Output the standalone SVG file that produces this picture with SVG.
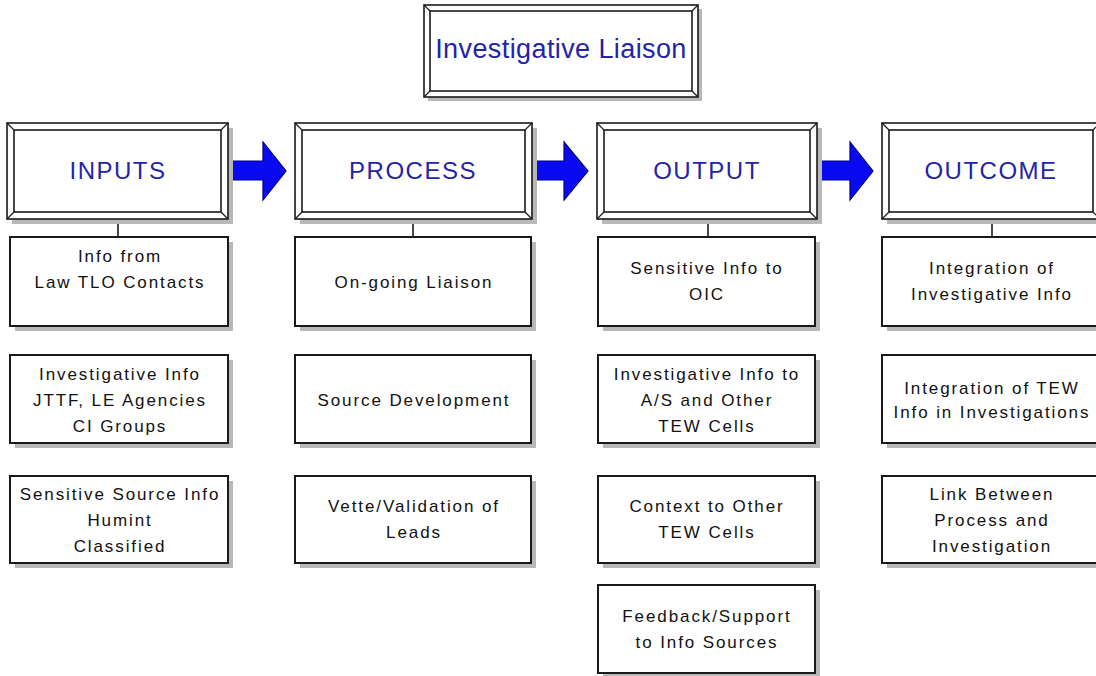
<svg xmlns="http://www.w3.org/2000/svg" width="1096" height="676" viewBox="0 0 1096 676">
  <style>
    .shadow { fill: #b8b8b8; stroke: none; }
    .frame { fill: #ffffff; stroke: #1a1a1a; stroke-width: 1.6; }
    .bevel { stroke: #1a1a1a; stroke-width: 1.2; fill: none; }
    .box { fill: #ffffff; stroke: #1a1a1a; stroke-width: 2; }
    .head { font-family: "Liberation Sans", Arial, sans-serif; font-size: 24px; letter-spacing: 1.5px; fill: #2424a8; text-anchor: middle; }
    .title { font-family: "Liberation Sans", Arial, sans-serif; font-size: 27px; letter-spacing: 0.4px; fill: #2424a8; text-anchor: middle; }
    .lbl { font-family: "Liberation Sans", Arial, sans-serif; font-size: 17px; letter-spacing: 1.9px; fill: #111111; text-anchor: middle; }
    .link { stroke: #1a1a1a; stroke-width: 1.6; fill: none; }
    .flow { fill: #0a0af0; stroke: #00008a; stroke-width: 1.2; stroke-linejoin: miter; }
  </style>

  <rect width="1096" height="676" fill="#ffffff"/>

  <!-- Title -->
  <g id="title">
    <rect class="shadow" x="428" y="9" width="274" height="92"/>
    <rect class="frame" x="424" y="5" width="274" height="92"/>
    <rect class="frame" x="430" y="11" width="262" height="80"/>
    <path class="bevel" d="M424 5 L430 11 M698 5 L692 11 M424 97 L430 91 M698 97 L692 91"/>
    <text class="title" x="561" y="58">Investigative Liaison</text>
  </g>

  <!-- Connectors: header-to-header flow arrows and header-to-list ticks -->
  <g id="connectors">
    <polygon class="flow" points="228,161 263,161 263,142 286,171 263,200 263,180 228,180"/>
    <polygon class="flow" points="532,161 564,161 564,142 588,171 564,200 564,180 532,180"/>
    <polygon class="flow" points="817,161 850,161 850,142 873,171 850,200 850,180 817,180"/>
    <line class="link" x1="118" y1="219" x2="118" y2="237"/>
    <line class="link" x1="413" y1="219" x2="413" y2="237"/>
    <line class="link" x1="708" y1="219" x2="708" y2="237"/>
    <line class="link" x1="992" y1="219" x2="992" y2="237"/>
  </g>

  <!-- Column headers -->
  <g id="inputs">
    <rect class="shadow" x="12" y="128" width="221" height="96"/>
    <rect class="frame" x="7" y="123" width="221" height="96"/>
    <rect class="frame" x="14" y="130" width="207" height="82"/>
    <path class="bevel" d="M7 123 L14 130 M228 123 L221 130 M7 219 L14 212 M228 219 L221 212"/>
    <text class="head" x="118" y="179">INPUTS</text>
  </g>
  <g id="process">
    <rect class="shadow" x="300" y="128" width="237" height="96"/>
    <rect class="frame" x="295" y="123" width="237" height="96"/>
    <rect class="frame" x="302" y="130" width="223" height="82"/>
    <path class="bevel" d="M295 123 L302 130 M532 123 L525 130 M295 219 L302 212 M532 219 L525 212"/>
    <text class="head" x="413" y="179">PROCESS</text>
  </g>
  <g id="output">
    <rect class="shadow" x="602" y="128" width="220" height="96"/>
    <rect class="frame" x="597" y="123" width="220" height="96"/>
    <rect class="frame" x="604" y="130" width="206" height="82"/>
    <path class="bevel" d="M597 123 L604 130 M817 123 L810 130 M597 219 L604 212 M817 219 L810 212"/>
    <text class="head" x="707" y="179">OUTPUT</text>
  </g>
  <g id="outcome">
    <rect class="shadow" x="887" y="128" width="218" height="96"/>
    <rect class="frame" x="882" y="123" width="218" height="96"/>
    <rect class="frame" x="889" y="130" width="204" height="82"/>
    <path class="bevel" d="M882 123 L889 130 M1100 123 L1093 130 M882 219 L889 212 M1100 219 L1093 212"/>
    <text class="head" x="991" y="179">OUTCOME</text>
  </g>

  <!-- INPUTS items -->
  <g id="in-1">
    <rect class="shadow" x="15" y="242" width="218" height="89"/>
    <rect class="box" x="10" y="237" width="218" height="89"/>
    <text class="lbl" x="120" y="262">Info from</text>
    <text class="lbl" x="120" y="288">Law TLO Contacts</text>
  </g>
  <g id="in-2">
    <rect class="shadow" x="15" y="360" width="218" height="88"/>
    <rect class="box" x="10" y="355" width="218" height="88"/>
    <text class="lbl" x="120" y="380">Investigative Info</text>
    <text class="lbl" x="120" y="406">JTTF, LE Agencies</text>
    <text class="lbl" x="120" y="432">CI Groups</text>
  </g>
  <g id="in-3">
    <rect class="shadow" x="15" y="481" width="218" height="87"/>
    <rect class="box" x="10" y="476" width="218" height="87"/>
    <text class="lbl" x="120" y="500">Sensitive Source Info</text>
    <text class="lbl" x="120" y="526">Humint</text>
    <text class="lbl" x="120" y="552">Classified</text>
  </g>

  <!-- PROCESS items -->
  <g id="proc-1">
    <rect class="shadow" x="300" y="242" width="236" height="89"/>
    <rect class="box" x="295" y="237" width="236" height="89"/>
    <text class="lbl" x="414" y="288">On-going Liaison</text>
  </g>
  <g id="proc-2">
    <rect class="shadow" x="300" y="360" width="236" height="88"/>
    <rect class="box" x="295" y="355" width="236" height="88"/>
    <text class="lbl" x="414" y="406">Source Development</text>
  </g>
  <g id="proc-3">
    <rect class="shadow" x="300" y="481" width="236" height="87"/>
    <rect class="box" x="295" y="476" width="236" height="87"/>
    <text class="lbl" x="414" y="512">Vette/Validation of</text>
    <text class="lbl" x="414" y="538">Leads</text>
  </g>

  <!-- OUTPUT items -->
  <g id="out-1">
    <rect class="shadow" x="603" y="242" width="217" height="89"/>
    <rect class="box" x="598" y="237" width="217" height="89"/>
    <text class="lbl" x="707" y="274">Sensitive Info to</text>
    <text class="lbl" x="707" y="300">OIC</text>
  </g>
  <g id="out-2">
    <rect class="shadow" x="603" y="360" width="217" height="88"/>
    <rect class="box" x="598" y="355" width="217" height="88"/>
    <text class="lbl" x="707" y="380">Investigative Info to</text>
    <text class="lbl" x="707" y="406">A/S and Other</text>
    <text class="lbl" x="707" y="432">TEW Cells</text>
  </g>
  <g id="out-3">
    <rect class="shadow" x="603" y="481" width="217" height="87"/>
    <rect class="box" x="598" y="476" width="217" height="87"/>
    <text class="lbl" x="707" y="512">Context to Other</text>
    <text class="lbl" x="707" y="538">TEW Cells</text>
  </g>
  <g id="out-4">
    <rect class="shadow" x="603" y="590" width="217" height="88"/>
    <rect class="box" x="598" y="585" width="217" height="88"/>
    <text class="lbl" x="707" y="622">Feedback/Support</text>
    <text class="lbl" x="707" y="648">to Info Sources</text>
  </g>

  <!-- OUTCOME items -->
  <g id="oc-1">
    <rect class="shadow" x="887" y="242" width="218" height="89"/>
    <rect class="box" x="882" y="237" width="218" height="89"/>
    <text class="lbl" x="992" y="274">Integration of</text>
    <text class="lbl" x="992" y="300">Investigative Info</text>
  </g>
  <g id="oc-2">
    <rect class="shadow" x="887" y="360" width="218" height="88"/>
    <rect class="box" x="882" y="355" width="218" height="88"/>
    <text class="lbl" x="992" y="394">Integration of TEW</text>
    <text class="lbl" x="992" y="418">Info in Investigations</text>
  </g>
  <g id="oc-3">
    <rect class="shadow" x="887" y="481" width="218" height="87"/>
    <rect class="box" x="882" y="476" width="218" height="87"/>
    <text class="lbl" x="992" y="500">Link Between</text>
    <text class="lbl" x="992" y="526">Process and</text>
    <text class="lbl" x="992" y="552">Investigation</text>
  </g>
</svg>
